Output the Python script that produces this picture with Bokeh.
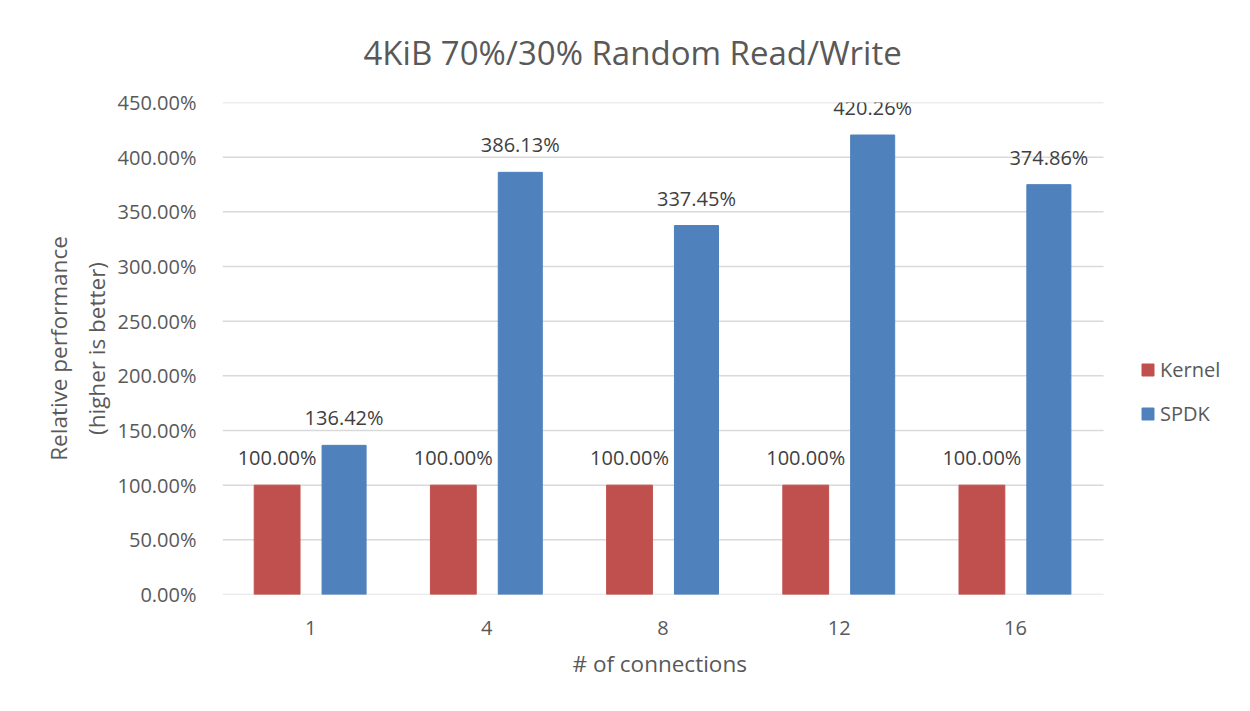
from bokeh.plotting import figure
from bokeh.models import ColumnDataSource, Range1d, LabelSet, Legend, LegendItem, PrintfTickFormatter, Title, FixedTicker
from bokeh.core.properties import value
from bokeh.transform import dodge
from bokeh.embed import file_html
from bokeh.resources import INLINE

categories = ["1", "4", "8", "12", "16"]
kernel = [100.00, 100.00, 100.00, 100.00, 100.00]
spdk = [136.42, 386.13, 337.45, 420.26, 374.86]
y_ticks = [0, 50, 100, 150, 200, 250, 300, 350, 400, 450]

KERNEL_COLOR = "#C0504D"
SPDK_COLOR = "#4F81BD"
TEXT_COLOR = "#595959"
GRID_COLOR = "#d9d9d9"
FONT = "Open Sans"

idx = list(range(len(categories)))

source = ColumnDataSource(data=dict(
    idx=idx,
    kernel=kernel,
    spdk=spdk,
    kernel_lbl=["%.2f%%" % v for v in kernel],
    spdk_lbl=["%.2f%%" % v for v in spdk],
))

grid_src = ColumnDataSource(data=dict(
    y=y_ticks,
    x0=[idx[0]] * len(y_ticks),
    x1=[idx[-1]] * len(y_ticks),
))

# frame runs to the right edge so the legend (drawn inside it) is not clipped;
# the range end leaves room for the legend right of the last category
FRAME_W = 1018
CAT_W = 881 / len(categories)
p = figure(
    width=1244, height=705,
    x_range=Range1d(-0.5, -0.5 + FRAME_W / CAT_W),
    y_range=Range1d(0, 450),
    output_backend="svg", toolbar_location=None,
    min_border_left=222, min_border_right=1244 - 222 - FRAME_W,
    min_border_top=102, min_border_bottom=111,
)
p.outline_line_color = None
p.background_fill_color = "white"
p.border_fill_color = "white"

# horizontal gridlines limited to the category area
p.segment(x0=dodge("x0", -0.5), x1=dodge("x1", 0.5),
          y0="y", y1="y", source=grid_src, line_color=GRID_COLOR, line_width=1.5)

kr = p.vbar(x=dodge("idx", -0.19), top="kernel", width=0.26,
            source=source, fill_color=KERNEL_COLOR, line_color=KERNEL_COLOR)
sr = p.vbar(x=dodge("idx", 0.19), top="spdk", width=0.25,
            source=source, fill_color=SPDK_COLOR, line_color=SPDK_COLOR)

for field, lbl, off in (("kernel", "kernel_lbl", -0.19), ("spdk", "spdk_lbl", 0.19)):
    p.add_layout(LabelSet(
        x=dodge("idx", off), y=field, text=lbl, source=source,
        text_align="center", text_baseline="bottom", y_offset=14,
        text_font=value(FONT), text_font_size="20px", text_color="#404040",
    ))

# title
t = Title(text="4KiB 70%/30% Random Read/Write", align="left", offset=141,
          text_font=FONT, text_font_size="33px", text_font_style="normal",
          text_color=TEXT_COLOR, standoff=55)
p.add_layout(t, "above")

# axes
p.yaxis.ticker = y_ticks
p.yaxis.formatter = PrintfTickFormatter(format="%.2f%%")
p.yaxis.axis_line_color = None
p.yaxis.major_tick_line_color = None
p.yaxis.minor_tick_line_color = None
p.yaxis.major_label_text_font = FONT
p.yaxis.major_label_text_font_size = "20px"
p.yaxis.major_label_text_color = TEXT_COLOR
p.yaxis.major_label_standoff = 20
p.yaxis.axis_label = "Relative performance\n(higher is better)"
p.yaxis.axis_label_text_font = FONT
p.yaxis.axis_label_text_font_size = "22.5px"
p.yaxis.axis_label_text_font_style = "normal"
p.yaxis.axis_label_text_color = TEXT_COLOR
p.yaxis.axis_label_standoff = 3

p.xaxis.ticker = FixedTicker(ticks=idx)
p.xaxis.major_label_overrides = {i: c for i, c in zip(idx, categories)}
p.xaxis.axis_line_color = None
p.xaxis.major_tick_line_color = None
p.xaxis.minor_tick_line_color = None
p.xaxis.major_label_text_font = FONT
p.xaxis.major_label_text_font_size = "20px"
p.xaxis.major_label_text_color = TEXT_COLOR
p.xaxis.major_label_standoff = 20

# x-axis title, centred under the category area rather than the whole frame
xt = Title(text="# of connections", align="left", offset=350,
           text_font=FONT, text_font_size="22.5px", text_font_style="normal",
           text_color=TEXT_COLOR, standoff=16)
p.add_layout(xt, "below")

p.xgrid.grid_line_color = None
p.ygrid.grid_line_color = None

legend = Legend(
    items=[LegendItem(label="Kernel", renderers=[kr]), LegendItem(label="SPDK", renderers=[sr])],
    location=(918, 167), orientation="vertical",
    label_text_font=FONT, label_text_font_size="20px", label_text_color=TEXT_COLOR,
    glyph_width=15, glyph_height=15, spacing=17, padding=10, margin=0,
    border_line_color=None, background_fill_alpha=0,
)
p.add_layout(legend, "center")

open("out.html", "w").write(file_html(p, INLINE))
